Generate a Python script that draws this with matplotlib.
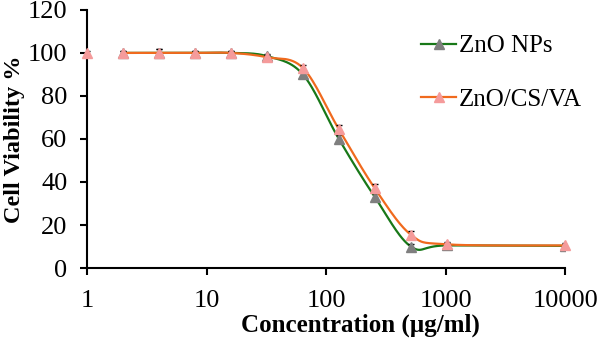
import numpy as np
import matplotlib.pyplot as plt

conc = [1, 2, 4, 8, 16, 32, 64, 128, 256, 512, 1024, 10000]
zno_nps = [100, 100, 100, 100, 100, 98.5, 90, 60, 33, 10, 10.5, 10.3]
zno_nps_err = [0.8, 1, 2, 1, 1, 1, 1.5, 2, 2, 1, 1, 1]
zno_cs_va = [100, 100, 100, 100, 100, 98, 93, 64.5, 37, 15.5, 11, 10.5]
zno_cs_va_err = [0.8, 1, 2, 1, 1, 1, 1.5, 2, 2, 1.5, 1, 1]

plt.rcParams['font.family'] = ['Liberation Serif', 'DejaVu Serif']


def smooth(x, y, n=30):
    # catmull-rom through the points in log-x space, like excel's smoothed line
    lx = np.log10(x)
    y = np.asarray(y, float)
    px = np.concatenate([[lx[0]], lx, [lx[-1]]])
    py = np.concatenate([[y[0]], y, [y[-1]]])
    xs, ys = [], []
    t = np.linspace(0, 1, n)
    for i in range(1, len(px) - 2):
        p0, p1, p2, p3 = [np.array([px[j], py[j]]) for j in (i - 1, i, i + 1, i + 2)]
        c1 = p1 + (p2 - p0) / 6
        c2 = p2 - (p3 - p1) / 6
        b = ((1 - t) ** 3)[:, None] * p1 + (3 * (1 - t) ** 2 * t)[:, None] * c1 \
            + (3 * (1 - t) * t ** 2)[:, None] * c2 + (t ** 3)[:, None] * p2
        xs.append(b[:, 0])
        ys.append(b[:, 1])
    return 10 ** np.concatenate(xs), np.concatenate(ys)


fig, ax = plt.subplots(figsize=(5.98, 3.41), dpi=100)
fig.subplots_adjust(left=0.1455, right=0.945, top=0.971, bottom=0.214)

green = '#187818'
orange = '#f06a1e'
gray = '#7f7f7f'
pink = '#f59b9b'

# lines start at the second concentration, as in the original figure
sx, sy = smooth(conc[1:], zno_nps[1:])
ax.plot(sx, sy, color=green, lw=1.6)
ax.errorbar(conc[1:], zno_nps[1:], yerr=zno_nps_err[1:], fmt='none', ecolor='black', capsize=2.5, lw=1)
ax.plot(conc[1:], zno_nps[1:], '^', color=gray, ms=6.5, ls='none')

sx, sy = smooth(conc[1:], zno_cs_va[1:])
ax.plot(sx, sy, color=orange, lw=1.6)
ax.errorbar(conc, zno_cs_va, yerr=zno_cs_va_err, fmt='none', ecolor='black', capsize=2.5, lw=1)
ax.plot(conc, zno_cs_va, '^', color=pink, ms=6.5, ls='none', clip_on=False, zorder=5)

h1, = ax.plot([], [], color=green, lw=1.6, marker='^', mfc=gray, mec=gray, ms=6.5)
h2, = ax.plot([], [], color=orange, lw=1.6, marker='^', mfc=pink, mec=pink, ms=6.5)
ax.legend([h1, h2], ['ZnO NPs', 'ZnO/CS/VA'], loc='upper left', bbox_to_anchor=(0.652, 0.99),
          frameon=False, fontsize=18, handlelength=1.4, handletextpad=0.1, labelspacing=1.25)

ax.set_xscale('log')
ax.set_xlim(1, 10000)
ax.set_ylim(0, 120)
ax.set_yticks(range(0, 121, 20))
ax.set_xticks([1, 10, 100, 1000, 10000])
ax.set_xticklabels(['1', '10', '100', '1000', '10000'])
ax.minorticks_off()
ax.tick_params(labelsize=19, width=1.5, length=5)
ax.tick_params(axis='x', pad=11)
ax.tick_params(axis='y', pad=9)
for s in ['top', 'right']:
    ax.spines[s].set_visible(False)
for s in ['left', 'bottom']:
    ax.spines[s].set_linewidth(1.5)
ax.set_xlabel('Concentration (µg/ml)', fontsize=18, fontweight='bold', labelpad=1, x=0.571)
ax.set_ylabel('Cell Viability %', fontsize=17.5, fontweight='bold', labelpad=2)

plt.savefig('out.png')
